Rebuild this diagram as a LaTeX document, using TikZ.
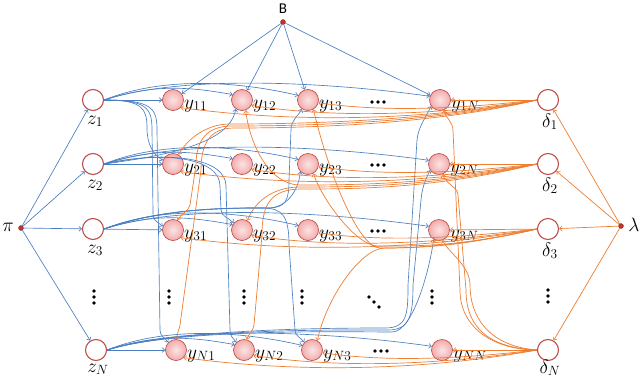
\documentclass[tikz,border=0pt]{standalone}
\usepackage{graphicx}
\usepackage{fontspec}
\newfontfamily\carlito{Carlito}
\usetikzlibrary{arrows.meta,calc}
\newcommand\labsc[1]{\scalebox{1.12}{#1}}
\definecolor{bl}{RGB}{74,126,193}
\definecolor{orr}{RGB}{237,125,49}
\definecolor{nred}{RGB}{192,80,77}
\definecolor{pinkA}{RGB}{252,228,228}
\definecolor{pinkB}{RGB}{242,172,172}
\definecolor{dotred}{RGB}{190,55,45}
\tikzset{
  zc/.style={circle, draw=nred, line width=1.1pt, fill=white, minimum size=21pt, inner sep=0pt},
  yc/.style={circle, draw=nred, line width=0.7pt, inner color=pinkA, outer color=pinkB, minimum size=21pt, inner sep=0pt},
  pnt/.style={circle, fill=dotred, draw=dotred!70!black, line width=0.3pt, minimum size=5pt, inner sep=0pt},
  lab/.style={font=\fontsize{17.28}{20}\selectfont, inner sep=0pt},
  be/.style={draw=bl, line width=0.65pt, -{Straight Barb[length=2.6pt,width=4.8pt,line width=0.6pt]}},
  oe/.style={draw=orr, line width=0.7pt, -{Straight Barb[length=2.6pt,width=4.8pt,line width=0.6pt]}},
}
\begin{document}
\begin{tikzpicture}[x=1pt, y=-1pt]
\useasboundingbox (0,0) rectangle (640,381);
% ---------- nodes ----------
\node[pnt] (B) at (283,22) {};
\node[font=\carlito\fontsize{15}{17}\selectfont, inner sep=0pt] (Blab) at (283,9) {B};
\node[pnt] (pi) at (21,228) {};
\node[lab] (pilab) at (8,227) {\labsc{$\pi$}};
\node[pnt] (lam) at (621,226) {};
\node[lab] (lamlab) at (634,225) {\labsc{$\lambda$}};

\node[zc] (z1) at (93,100) {};
\node[zc] (z2) at (93,164) {};
\node[zc] (z3) at (93,229) {};
\node[zc] (zN) at (96,350) {};
\node[zc] (d1) at (548,100) {};
\node[zc] (d2) at (548,164) {};
\node[zc] (d3) at (548,229) {};
\node[zc] (dN) at (548,350) {};

\node[lab, anchor=base] (lz1) at (95,124) {\labsc{$z_1$}};
\node[lab, anchor=base] (lz2) at (95,188) {\labsc{$z_2$}};
\node[lab, anchor=base] (lz3) at (95,253) {\labsc{$z_3$}};
\node[lab, anchor=base] (lzN) at (98,372) {\labsc{$z_N$}};
\node[lab, anchor=base] (ld1) at (550,127) {\labsc{$\delta_1$}};
\node[lab, anchor=base] (ld2) at (550,191) {\labsc{$\delta_2$}};
\node[lab, anchor=base] (ld3) at (550,256) {\labsc{$\delta_3$}};
\node[lab, anchor=base] (ldN) at (550,373) {\labsc{$\delta_N$}};

\node[yc] (y11) at (173,100) {};
\node[yc] (y12) at (242,100) {};
\node[yc] (y13) at (308,100) {};
\node[yc] (y1N) at (440,100) {};
\node[yc] (y21) at (173,164) {};
\node[yc] (y22) at (242,164) {};
\node[yc] (y23) at (308,164) {};
\node[yc] (y2N) at (439,164) {};
\node[yc] (y31) at (173,230) {};
\node[yc] (y32) at (242,230) {};
\node[yc] (y33) at (308,230) {};
\node[yc] (y3N) at (439,230) {};
\node[yc] (yN1) at (176,350) {};
\node[yc] (yN2) at (244,350) {};
\node[yc] (yN3) at (312,350) {};
\node[yc] (yNN) at (442,350) {};

\foreach \n in {11,12,13,1N,21,22,23,2N,31,32,33,3N,N1,N2,N3,NN}{
  \node[lab, anchor=base west] (l\n) at ($(y\n)+(11,8)$) {\labsc{$y_{\n}$}};
}

% ---------- dots ----------
\foreach \x/\y in {378/102,378/165,378/231,381/351}{
  \fill (\x-6,\y) circle (1.8); \fill (\x,\y) circle (1.8); \fill (\x+6,\y) circle (1.8);
}
\foreach \x/\y in {94/297,169/297,244/297,302/297,432/297,548/296}{
  \fill (\x,\y-6) circle (1.8); \fill (\x,\y) circle (1.8); \fill (\x,\y+6) circle (1.8);
}
\fill (369,297) circle (1.8); \fill (374,302) circle (1.8); \fill (379,307) circle (1.8);

% ---------- blue edges ----------
\foreach \t in {z1,z2,z3,zN}{ \draw[be] (pi) -- (\t); }
\foreach \t in {y11,y12,y13,y1N}{ \draw[be] (B) -- (\t); }
\foreach \r in {1,2,3,N}{
  \draw[be] (z\r) -- (y\r1);
  \draw[be] (z\r.east) .. controls +(50,-16) and +(-45,-8) .. (y\r2.150);
  \draw[be] (z\r.east) .. controls +(60,-24) and +(-60,-14) .. (y\r3.155);
  \draw[be] (z\r.east) .. controls +(80,-26) and +(-100,-14) .. (y\r N.160);
}
% column 1 from z1
\draw[be] (z1.east) .. controls +(38,0) and +(0,-20) .. (147,128) .. controls +(0,16) and +(-10,-6) .. (y21.160);
\draw[be] (z1.east) .. controls +(43,0) and +(0,-22) .. (152,130) -- (153,212) .. controls +(0,8) and +(-8,-6) .. (y31.160);
\draw[be] (z1.east) .. controls +(48,0) and +(0,-22) .. (157,130) -- (160,330) .. controls +(0,6) and +(-4,-5) .. (yN1.135);
% column 2 from z2
\draw[be] (z2.east) .. controls +(75,-10) and +(-6,32) .. (y12.235);
\draw[be] (z2.east) .. controls +(60,-14) and +(0,-28) .. (220,186) -- (221,210) .. controls +(0,6) and +(-5,-5) .. (y32.140);
\draw[be] (z2.east) .. controls +(65,-14) and +(0,-28) .. (226,186) -- (230,330) .. controls +(0,6) and +(-4,-5) .. (yN2.135);
% column 3 from z3
\draw[be] (z3.east) .. controls +(60,-22) and +(-30,0) .. (268,208) .. controls +(18,0) and +(0,20) .. (289,180) -- (291,130) .. controls +(0,-10) and +(-4,8) .. (y13.235);
\draw[be] (z3.east) .. controls +(60,-22) and +(-30,0) .. (268,208) .. controls +(18,0) and +(-2,20) .. (y23.225);
\draw[be] (z3.east) .. controls +(60,-22) and +(-30,0) .. (262,208) .. controls +(20,0) and +(0,-30) .. (289,245) -- (295,330) .. controls +(0,6) and +(-4,-5) .. (yN3.135);
% column N from zN
\draw[be] (zN.east) .. controls +(70,-22) and +(-40,0) .. (385,328) .. controls +(22,0) and +(0,30) .. (408,285) -- (417,140) .. controls +(1,-12) and +(-5,10) .. (y1N.215);
\draw[be] (zN.east) .. controls +(70,-22) and +(-40,0) .. (388,330) .. controls +(22,0) and +(0,30) .. (413,285) -- (421,200) .. controls +(1,-12) and +(-5,10) .. (y2N.215);
\draw[be] (zN.east) .. controls +(70,-22) and +(-40,0) .. (392,332) .. controls +(22,0) and +(-3,25) .. (y3N.240);

% ---------- orange edges ----------
\foreach \t in {d1,d2,d3,dN}{ \draw[oe] (lam) -- (\t); }
\foreach \r in {1,2,3,N}{
  \draw[oe] (d\r) -- (y\r N);
  \draw[oe] (d\r.west) .. controls +(-70,8) and +(70,10) .. (y\r3.-15);
  \draw[oe] (d\r.west) .. controls +(-90,14) and +(90,14) .. (y\r2.-30);
  \draw[oe] (d\r.west) .. controls +(-110,20) and +(120,16) .. (y\r1.-45);
}
% column 1 from d1
\draw[oe] (d1.west) .. controls +(-110,22) and +(60,0) .. (230,124) .. controls +(-25,0) and +(8,-14) .. (y21.60);
\draw[oe] (d1.west) .. controls +(-110,24) and +(60,0) .. (232,126) .. controls +(-25,0) and +(0,-25) .. (196,165) -- (190,205) .. controls +(-1,6) and +(3,-6) .. (y31.65);
\draw[oe] (d1.west) .. controls +(-110,26) and +(60,0) .. (234,128) .. controls +(-25,0) and +(0,-25) .. (201,170) -- (180,325) .. controls +(-1,5) and +(0,-6) .. (yN1.85);
% column 2 from d2
\draw[oe] (d2.west) .. controls +(-100,20) and +(60,0) .. (300,185) .. controls +(-30,0) and +(4,35) .. (y12.-70);
\draw[oe] (d2.west) .. controls +(-100,22) and +(60,0) .. (300,187) .. controls +(-30,0) and +(6,-16) .. (y32.60);
\draw[oe] (d2.west) .. controls +(-100,24) and +(60,0) .. (302,189) .. controls +(-32,0) and +(0,-30) .. (262,235) -- (254,325) .. controls +(-1,6) and +(2,-6) .. (yN2.75);
% column 3 from d3
\draw[oe] (d3.west) .. controls +(-80,18) and +(40,0) .. (380,248) .. controls +(-22,0) and +(14,60) .. (y13.-60);
\draw[oe] (d3.west) .. controls +(-80,18) and +(40,0) .. (378,246) .. controls +(-22,0) and +(8,25) .. (y23.-60);
\draw[oe] (d3.west) .. controls +(-70,16) and +(30,0) .. (385,248) .. controls +(-25,0) and +(8,-40) .. (yN3.60);
% column N from dN
\draw[oe] (dN.west) .. controls +(-40,0) and +(0,40) .. (460,290) -- (453,130) .. controls +(0,-8) and +(2,8) .. (y1N.-70);
\draw[oe] (dN.west) .. controls +(-45,-2) and +(0,40) .. (466,290) -- (458,195) .. controls +(0,-8) and +(3,10) .. (y2N.-70);
\draw[oe] (dN.west) .. controls +(-50,-4) and +(0,30) .. (470,285) .. controls +(0,-20) and +(5,12) .. (y3N.-70);
\end{tikzpicture}
\end{document}
